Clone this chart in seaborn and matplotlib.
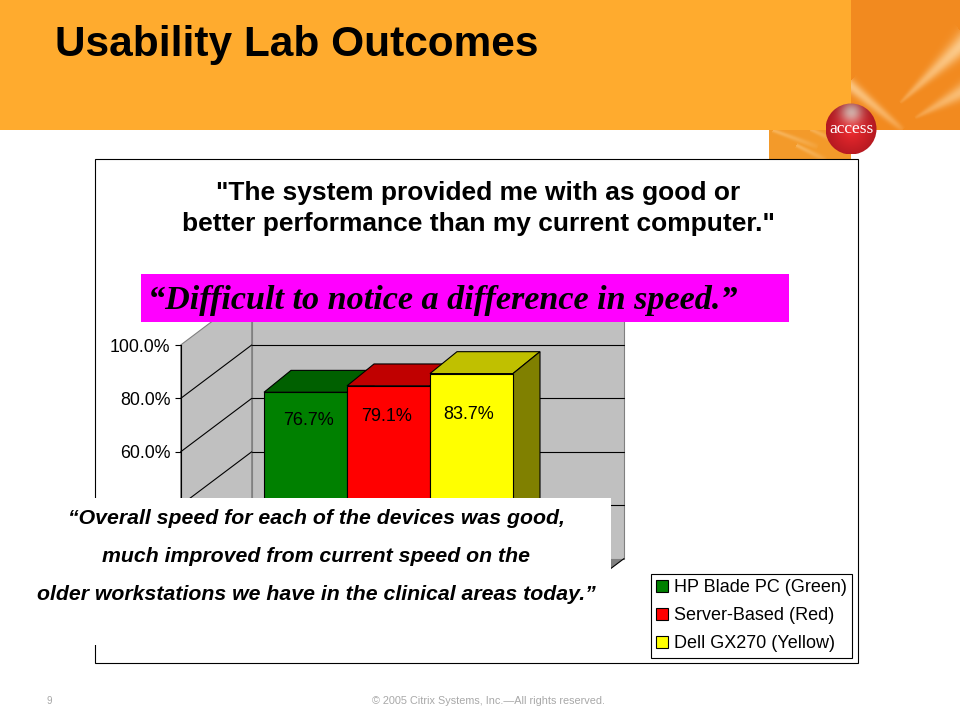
"""Usability lab outcomes slide: faux 3D bar chart on a slide background"""

import numpy as np
import pandas as pd
import seaborn as sns
import matplotlib.pyplot as plt
from matplotlib.patches import Circle, Polygon, Rectangle

# chart data
devices = ["HP Blade PC (Green)", "Server-Based (Red)", "Dell GX270 (Yellow)"]
scores = [76.7, 79.1, 83.7]
tick_values = [0, 20, 40, 60, 80, 100]

front_colors = ["#008000", "#FF0000", "#FFFF00"]
top_colors = ["#006000", "#C00000", "#C0C000"]
side_colors = ["#004000", "#800000", "#808000"]

chart_title = '"The system provided me with as good or\nbetter performance than my current computer."'
banner_text = "\u201cDifficult to notice a difference in speed.\u201d"
quote_lines = [
    "\u201cOverall speed for each of the devices was good,",
    "much improved from current speed on the",
    "older workstations we have in the clinical areas today.\u201d",
]

# fake 3D geometry, in category / percent units
LIFT = 5.6
WALL_DX = 71 / 83
WALL_DY = 20
BAR_DX = 27 / 83
BAR_DY = 8.2
LABEL_DROP = [10.4, 11.4, 15.4]
LABEL_SHIFT = [0.03, -0.02, -0.04]

W, H = 960, 720
LW = 0.8

sns.set_style("white")
plt.rcParams['font.family'] = ['Liberation Sans', 'DejaVu Sans']
plt.rcParams['text.color'] = 'black'
plt.rcParams['ytick.color'] = 'black'

fig = plt.figure(figsize=(W / 100, H / 100), dpi=100)


def pixel_axes(zorder):
    a = fig.add_axes([0, 0, 1, 1], zorder=zorder)
    a.set_xlim(0, W)
    a.set_ylim(H, 0)
    a.axis('off')
    a.patch.set_alpha(0)
    return a


def streak_alpha(px, py, p0, p1, w0, w1, strength):
    # soft light streak along p0-p1, fading out towards p1
    (ax0, ay0), (ax1, ay1) = p0, p1
    length = np.hypot(ax1 - ax0, ay1 - ay0)
    ux, uy = (ax1 - ax0) / length, (ay1 - ay0) / length
    t = ((px - ax0) * ux + (py - ay0) * uy) / length
    d = (px - ax0) * uy - (py - ay0) * ux
    width = w0 + (w1 - w0) * t.clip(0, 1)
    fade = np.where((t > -0.05) & (t < 1), (1 - t.clip(0, 1)) ** 0.4, 0)
    return strength * np.exp(-(d / width) ** 2) * fade


# slide background
bg = pixel_axes(0)
bg.add_patch(Rectangle((0, 0), 851, 130, fc="#FFAB2E", ec='none'))
bg.add_patch(Rectangle((851, 0), 109, 130, fc="#F28A1F", ec='none'))
bg.add_patch(Rectangle((769, 130), 82, 29, fc="#F39A2A", ec='none'))

py, px = np.mgrid[0.5:159.5:1, 769.5:960.5:1]
light = np.zeros_like(px)
for p0, p1, w0, w1, strength in [
    ((965, 42), (900, 103), 10, 1.5, 0.75),
    ((965, 90), (915, 118), 8, 1.5, 0.6),
    ((851, 86), (903, 130), 6, 3, 0.65),
    ((775, 131), (818, 147), 2, 3, 0.35),
    ((812, 130), (838, 142), 2, 3, 0.3),
    ((798, 146), (826, 160), 2, 3, 0.35),
]:
    light = np.maximum(light, streak_alpha(px, py, p0, p1, w0, w1, strength))
inside = ((px > 851) & (py < 130)) | ((px < 851) & (py > 130))
overlay = np.zeros(px.shape + (4,))
overlay[..., :3] = [1.0, 0.89, 0.70]
overlay[..., 3] = light * inside
bg.imshow(overlay, extent=(769, 960, 159, 0), aspect='auto', zorder=1.5)

# red badge
yy, xx = np.mgrid[0:1:80j, 0:1:80j]
edge = np.hypot(xx - 0.5, yy - 0.55)
glow = np.exp(-((xx - 0.5) ** 2 + (yy - 0.18) ** 2) / 0.05)
rgb = np.dstack([
    0.93 - 0.45 * edge + 0.05 * glow,
    0.16 - 0.12 * edge + 0.55 * glow,
    0.18 - 0.10 * edge + 0.50 * glow,
]).clip(0, 1)
badge = Circle((851, 129), 25.5, transform=bg.transData)
img = bg.imshow(rgb, extent=(825.5, 876.5, 154.5, 103.5), aspect='auto', zorder=5)
img.set_clip_path(badge)
bg.set_xlim(0, W)
bg.set_ylim(H, 0)
bg.text(851, 129, "access", color='white', fontsize=12.5, ha='center', va='center',
        family=['Liberation Serif', 'DejaVu Serif'], zorder=6)

# slide texts and chart frame
bg.text(55, 45, "Usability Lab Outcomes", fontsize=30.5, fontweight='bold', va='center')
bg.add_patch(Rectangle((95, 159), 763, 504, fc='white', ec='black', lw=LW, zorder=2))
bg.text(478, 208.5, chart_title, fontsize=19, fontweight='bold', ha='center', va='center',
        linespacing=1.4, zorder=3)
bg.text(49, 701, "9", fontsize=7, color="#A8A8A8", ha='center', va='center')
bg.text(488, 701, "\u00a9 2005 Citrix Systems, Inc.\u2014All rights reserved.", fontsize=7.8,
        color="#A8A8A8", ha='center', va='center')

# chart, the axes cover the front plane of the 3D box
ax = fig.add_axes([180.7 / W, 1 - 612 / H, (553 - 180.7) / W, (612 - 345) / H], zorder=1)
ax.patch.set_alpha(0)
df = pd.DataFrame({"device": devices, "score": scores})
sns.barplot(data=df, x="device", y="score", hue="device", hue_order=devices,
            palette=dict(zip(devices, front_colors)), width=1, edgecolor='black',
            linewidth=LW, saturation=1, legend=False, ax=ax)

x0, x1 = -1.504, 2.982
y0, y1 = -LIFT, 100 - LIFT
ax.set_xlim(x0, x1)
ax.set_ylim(y0, y1)


def face(pts, fc, z, ec='black'):
    ax.add_patch(Polygon(pts, closed=True, fc=fc, ec=ec, lw=LW, zorder=z, clip_on=False))


# walls and floor
face([(x0, y0), (x1, y0), (x1 + WALL_DX, y0 + WALL_DY), (x0 + WALL_DX, y0 + WALL_DY)], "#808080", 0.2, ec='none')
face([(x0, y0), (x0 + WALL_DX, y0 + WALL_DY), (x0 + WALL_DX, y1 + WALL_DY), (x0, y1)], "#C0C0C0", 0.3, ec="#808080")
face([(x0 + WALL_DX, y0 + WALL_DY), (x1 + WALL_DX, y0 + WALL_DY), (x1 + WALL_DX, y1 + WALL_DY),
      (x0 + WALL_DX, y1 + WALL_DY)], "#C0C0C0", 0.3, ec="#808080")
for t in tick_values[:-1]:
    level = t - LIFT
    ax.plot([x0, x0 + WALL_DX], [level, level + WALL_DY], color='black', lw=LW, zorder=0.5, clip_on=False)
    if t > 0:
        ax.plot([x0 + WALL_DX, x1 + WALL_DX], [level + WALL_DY] * 2, color='black', lw=LW, zorder=0.5, clip_on=False)
ax.plot([x1, x1 + WALL_DX], [y0, y0 + WALL_DY], color='black', lw=LW, zorder=0.5, clip_on=False)

# bars, later bars sit in front of earlier ones
for i, (container, value) in enumerate(zip(ax.containers, scores)):
    z = 2 + i
    for bar in container:
        bar.set_zorder(z + 0.2)
        bar.set_clip_on(False)
    lo, hi = i - 0.5, i + 0.5
    face([(lo, value), (hi, value), (hi + BAR_DX, value + BAR_DY), (lo + BAR_DX, value + BAR_DY)], top_colors[i], z)
    face([(hi, y0), (hi, value), (hi + BAR_DX, value + BAR_DY), (hi + BAR_DX, y0 + BAR_DY)], side_colors[i], z)
    ax.text(i + LABEL_SHIFT[i], value - LABEL_DROP[i], f"{value:.1f}%", fontsize=13,
            ha='center', va='center', zorder=10)

ax.set_xticks([])
ax.set_xlabel("")
ax.set_ylabel("")
ax.set_yticks([t - LIFT for t in tick_values], [f"{t:.1f}%" for t in tick_values])
ax.tick_params(axis='y', left=True, length=4, width=LW, pad=3.5, labelsize=12.8, color='black')
sns.despine(ax=ax, top=True, right=True, bottom=True)
ax.spines['left'].set_color('black')
ax.spines['left'].set_linewidth(LW)
ax.spines['left'].set_zorder(1)

leg = ax.legend(handles=[c[0] for c in ax.containers], labels=devices, loc='upper left',
                bbox_to_anchor=(651 / W, 1 - 574 / H), bbox_transform=fig.transFigure,
                frameon=True, fancybox=False, edgecolor='black', framealpha=1,
                fontsize=13, borderaxespad=0, borderpad=0.3, labelspacing=0.6,
                handlelength=0.65, handleheight=0.65, handletextpad=0.3)
leg.get_frame().set_linewidth(LW)
leg.set_zorder(20)

# boxes pasted on top of the chart
top = pixel_axes(2)
top.add_patch(Rectangle((141, 274), 648, 48, fc="#FF00FF", ec='none'))
top.text(148, 301, banner_text, fontsize=24.6, fontstyle='italic', fontweight='bold', va='center',
         family=['Liberation Serif', 'DejaVu Serif'])
top.add_patch(Rectangle((20, 498), 591, 147, fc='white', ec='none'))
for line, y in zip(quote_lines, [519, 557, 595]):
    top.text(316, y, line, fontsize=15.3, fontstyle='italic', fontweight='bold', ha='center', va='center')

plt.savefig('out.png', dpi=100)
plt.close()
print("Saved: out.png")
